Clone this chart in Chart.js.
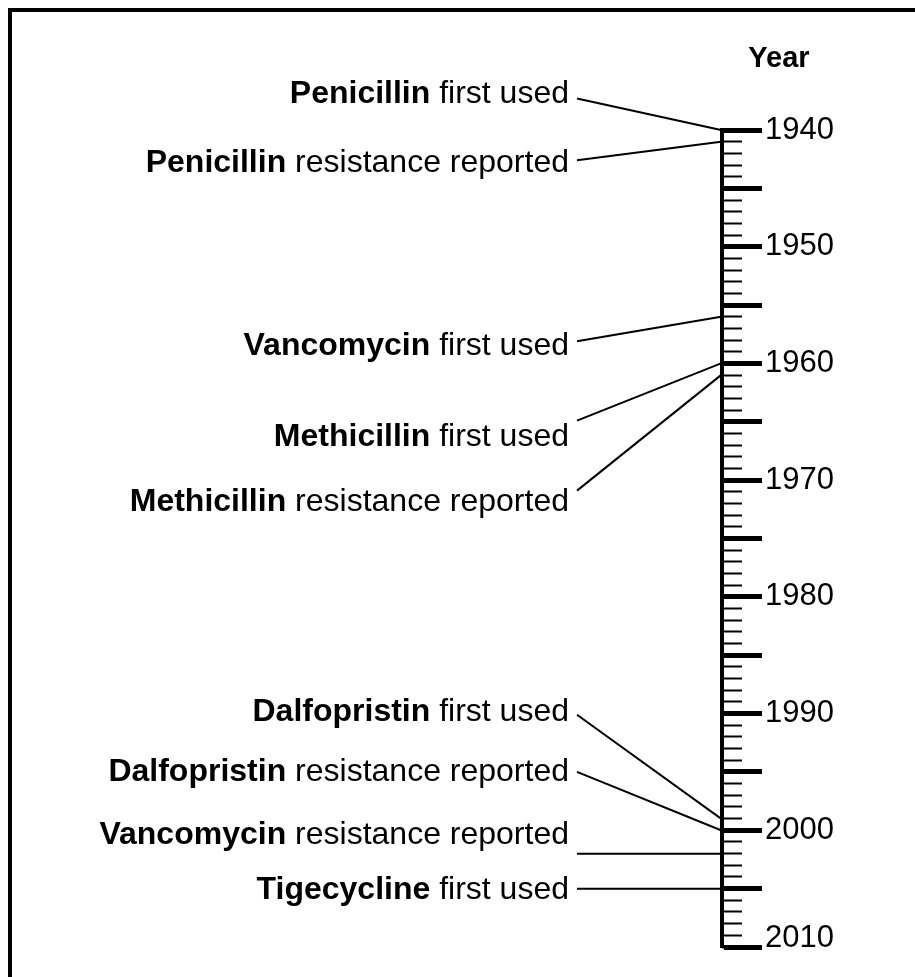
<!DOCTYPE html>
<html>
<head>
<meta charset="utf-8">
<script src="https://cdn.jsdelivr.net/npm/chart.js@4"></script>
<style>
  html, body { margin: 0; padding: 0; background: #fff; }
  canvas { display: block; }
</style>
</head>
<body>
<canvas id="timeline" width="915" height="977"></canvas>
<script>
const drugs = ['Penicillin', 'Penicillin', 'Vancomycin', 'Methicillin', 'Methicillin',
               'Dalfopristin', 'Dalfopristin', 'Vancomycin', 'Tigecycline'];
const events = ['first used', 'resistance reported', 'first used', 'first used', 'resistance reported',
                'first used', 'resistance reported', 'resistance reported', 'first used'];
const years = [1940, 1941, 1956, 1960, 1961, 1999, 2000, 2002, 2005];
const yearLabels = [1940, 1950, 1960, 1970, 1980, 1990, 2000, 2010];

// layout: where each label sits along the axis (in years) and where its leader line starts
const textAt = [1936.9, 1942.8, 1958.5, 1966.3, 1971.9, 1989.9, 1995.0, 2000.4, 2005.1];
const lineFrom = [1937.3, 1942.6, 1958.1, 1964.9, 1970.9, 1990.1, 1995.0, 2002, 2005];

const FONT = '"Liberation Sans", Arial, sans-serif';
const LABEL_SIZE = 32;
const TICK_SIZE = 31;
const TEXT_RIGHT = 569;

const frame = {
  id: 'frame',
  beforeDraw(chart) {
    const ctx = chart.ctx;
    ctx.save();
    ctx.fillStyle = '#fff';
    ctx.fillRect(0, 0, chart.width, chart.height);
    ctx.strokeStyle = '#000';
    ctx.lineWidth = 4;
    ctx.strokeRect(10, 10, chart.width + 50, chart.height + 50);
    ctx.restore();
  }
};

const eventLabels = {
  id: 'eventLabels',
  afterDraw(chart) {
    const ctx = chart.ctx;
    const y = chart.scales.y;
    ctx.save();
    ctx.fillStyle = '#000';
    ctx.textBaseline = 'middle';
    ctx.textAlign = 'right';
    drugs.forEach((drug, i) => {
      const py = y.getPixelForValue(textAt[i]);
      const rest = ' ' + events[i];
      ctx.font = LABEL_SIZE + 'px ' + FONT;
      const w = ctx.measureText(rest).width;
      ctx.fillText(rest, TEXT_RIGHT, py);
      ctx.font = 'bold ' + LABEL_SIZE + 'px ' + FONT;
      ctx.fillText(drug, TEXT_RIGHT - w, py);
    });
    ctx.font = 'bold 29px ' + FONT;
    ctx.textAlign = 'center';
    ctx.fillText('Year', 779, 59);
    ctx.restore();
  }
};

const datasets = years.map((yr, i) => ({
  data: [{x: 577, y: lineFrom[i]}, {x: 721, y: yr}],
  showLine: true,
  borderColor: '#000',
  borderWidth: 2,
  pointRadius: 0,
  clip: false
}));

new Chart(document.getElementById('timeline'), {
  type: 'scatter',
  data: { datasets: datasets },
  plugins: [frame, eventLabels],
  options: {
    responsive: false,
    animation: false,
    events: [],
    layout: { padding: { left: 12, top: 130, bottom: 30, right: 0 } },
    plugins: { legend: { display: false }, tooltip: { enabled: false } },
    scales: {
      x: { type: 'linear', display: false, min: 12, max: 722 },
      minor: {
        type: 'linear', position: 'right', weight: 0,
        min: 1940, max: 2010, reverse: true,
        ticks: { stepSize: 1, display: false },
        grid: { drawOnChartArea: false, drawTicks: true, tickLength: 20, tickWidth: 2, tickColor: '#000' },
        border: { display: false },
        afterFit: s => { s.width = 0; }
      },
      y: {
        type: 'linear', position: 'right', weight: 1,
        min: 1940, max: 2010, reverse: true,
        ticks: {
          stepSize: 5, autoSkip: false, padding: 3, color: '#000',
          // the last label sits a little above its tick, as in the source figure
          font: c => ({ size: TICK_SIZE, family: FONT, lineHeight: c.tick && c.tick.value === 2010 ? '18px' : 1.2 }),
          callback: v => v === 2010 ? ['2010', ''] : (yearLabels.includes(v) ? String(v) : '')
        },
        grid: { drawOnChartArea: false, drawTicks: true, tickLength: 40, tickWidth: 5, tickColor: '#000' },
        border: { display: true, width: 4, color: '#000' },
        afterFit: s => { s.width = 193; }
      }
    }
  }
});
</script>
</body>
</html>
